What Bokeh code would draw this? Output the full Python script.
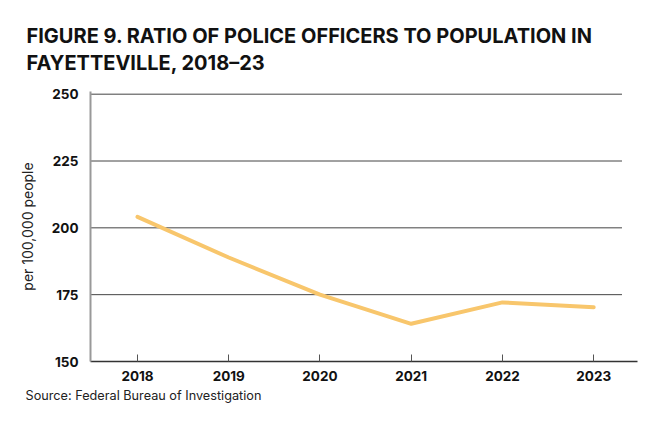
from bokeh.plotting import figure
from bokeh.models import Title, Range1d, FixedTicker
from bokeh.embed import file_html
from bokeh.resources import INLINE

years = [2018, 2019, 2020, 2021, 2022, 2023]
ratio = [204.1, 188.9, 175.0, 164.1, 172.1, 170.3]
y_ticks = [150, 175, 200, 225, 250]
title_lines = ["FIGURE 9. RATIO OF POLICE OFFICERS TO POPULATION IN", "FAYETTEVILLE, 2018\u201323"]
y_label = "per 100,000 people"
source = "Source: Federal Bureau of Investigation"

W, H = 656, 409
p = figure(width=W, height=H, output_backend="svg", toolbar_location=None,
           x_range=Range1d(2017.485, 2023.48), y_range=Range1d(150, 251),
           min_border_left=90, min_border_right=W - 637, min_border_top=91, min_border_bottom=H - 361)
p.outline_line_color = None
p.xgrid.visible = False
p.ygrid.visible = False

# gridlines (stop short of the x-axis end, as in the reference)
grid_y = [t for t in y_ticks if t > y_ticks[0]]
p.segment(x0=[2017.485] * len(grid_y), x1=[2023.31] * len(grid_y), y0=grid_y, y1=grid_y,
          line_color="#444444", line_width=1)

p.line(years, ratio, line_color="#F8C66C", line_width=4, line_join="round", line_cap="round")

font = "Inter"
p.xaxis.ticker = FixedTicker(ticks=years)
p.xaxis.axis_line_color = "#333333"
p.xaxis.axis_line_width = 1.5
p.xaxis.major_tick_in = 7
p.xaxis.major_tick_out = 0
p.xaxis.major_tick_line_color = "#555555"
p.xaxis.minor_tick_line_color = None
p.xaxis.major_label_standoff = 9
p.xaxis.major_label_text_font = font
p.xaxis.major_label_text_font_style = "bold"
p.xaxis.major_label_text_font_size = "13.5px"
p.xaxis.major_label_text_color = "#111111"

p.yaxis.ticker = FixedTicker(ticks=y_ticks)
p.yaxis.axis_line_color = "#999999"
p.yaxis.axis_line_width = 2
p.yaxis.major_tick_line_color = None
p.yaxis.minor_tick_line_color = None
p.yaxis.major_label_standoff = 6
p.yaxis.major_label_text_font = font
p.yaxis.major_label_text_font_style = "bold"
p.yaxis.major_label_text_font_size = "13.5px"
p.yaxis.major_label_text_color = "#111111"
p.yaxis.axis_label = y_label
p.yaxis.axis_label_text_font = font
p.yaxis.axis_label_text_font_style = "normal"
p.yaxis.axis_label_text_font_size = "14px"
p.yaxis.axis_label_text_color = "#222222"
p.yaxis.axis_label_standoff = 13

p.title = Title(text="\n".join(title_lines), align="left", offset=-64, standoff=32,
                text_font=font, text_font_style="bold", text_font_size="20px",
                text_color="#111111", text_line_height=1.15)
p.title_location = "above"

p.add_layout(Title(text=source, align="left", offset=-65, standoff=4,
                   text_font=font, text_font_style="normal", text_font_size="12.7px",
                   text_color="#222222"), "below")

open("out.html", "w").write(file_html(p, INLINE))
